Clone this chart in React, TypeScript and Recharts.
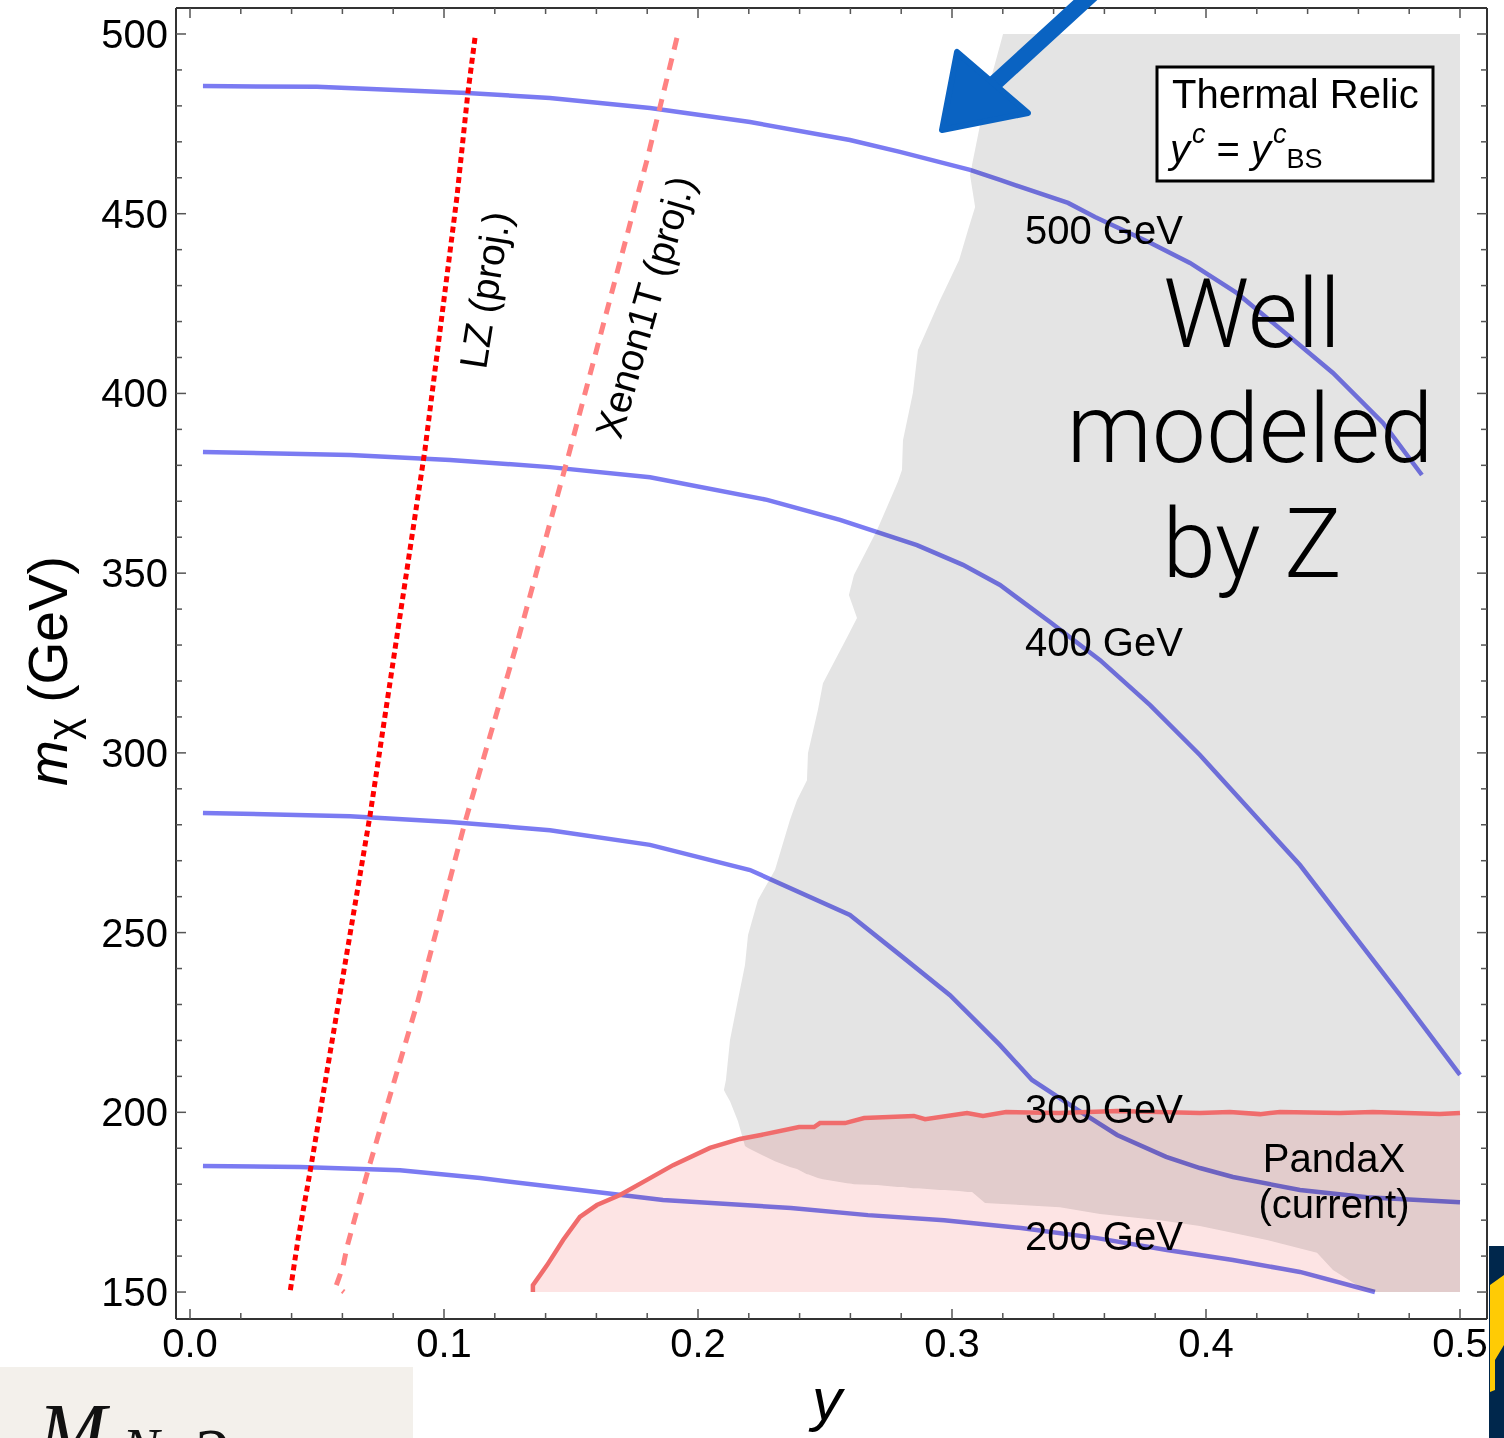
import React from 'react';
import { ComposedChart, XAxis, YAxis, Line, Area } from 'recharts';

const FONT = '"Liberation Sans", Arial, Helvetica, sans-serif';

// axis ticks
const X_TICKS = [0, 0.02, 0.04, 0.06, 0.08, 0.1, 0.12, 0.14, 0.16, 0.18, 0.2, 0.22, 0.24, 0.26, 0.28, 0.3, 0.32, 0.34, 0.36, 0.38, 0.4, 0.42, 0.44, 0.46, 0.48, 0.5];
const X_MAJOR = [0, 0.1, 0.2, 0.3, 0.4, 0.5];
const X_LABELS = ['0.0', '0.1', '0.2', '0.3', '0.4', '0.5'];
const Y_TICKS = [150, 160, 170, 180, 190, 200, 210, 220, 230, 240, 250, 260, 270, 280, 290, 300, 310, 320, 330, 340, 350, 360, 370, 380, 390, 400, 410, 420, 430, 440, 450, 460, 470, 480, 490, 500];
const Y_MAJOR = [150, 200, 250, 300, 350, 400, 450, 500];
const Y_LABELS = ['150', '200', '250', '300', '350', '400', '450', '500'];

// relic curves, [y, m_chi]
const m500 = [[0.0051, 485.5], [0.05, 485.3], [0.1091, 483.6], [0.1417, 482.2], [0.1811, 479.4], [0.2205, 475.5], [0.2598, 470.5], [0.2795, 467.2], [0.3071, 462.2], [0.3189, 459.4], [0.3457, 453.0], [0.3563, 449.1], [0.378, 441.9], [0.3937, 436.3], [0.4122, 427.9], [0.4331, 415.7], [0.45, 405.7], [0.4697, 391.8], [0.485, 377.3]];
const m400 = [[0.0051, 383.7], [0.063, 382.9], [0.1024, 381.5], [0.1417, 379.5], [0.1811, 376.7], [0.2272, 370.4], [0.2559, 364.8], [0.2862, 357.8], [0.3043, 352.3], [0.3189, 346.7], [0.3386, 336.4], [0.3583, 325.8], [0.378, 313.3], [0.3976, 299.4], [0.4173, 284.1], [0.437, 268.8], [0.4567, 250.7], [0.4764, 232.6], [0.5, 210.4]];
const m300 = [[0.0051, 283.3], [0.063, 282.4], [0.1024, 280.8], [0.1417, 278.5], [0.1811, 274.4], [0.2205, 267.4], [0.2598, 254.9], [0.2795, 243.8], [0.2992, 232.6], [0.3189, 218.7], [0.3315, 209.0], [0.3496, 200.6], [0.365, 193.7], [0.3843, 187.6], [0.3976, 184.5], [0.4106, 182.0], [0.437, 178.4], [0.4634, 176.4], [0.5, 175.0]];
const m200 = [[0.0051, 185.1], [0.0433, 184.8], [0.0827, 183.9], [0.1142, 181.7], [0.1535, 178.4], [0.1862, 175.6], [0.2366, 173.4], [0.2669, 171.4], [0.2969, 170.0], [0.3272, 167.8], [0.3571, 165.0], [0.3846, 161.7], [0.4106, 158.9], [0.437, 155.6], [0.4665, 150.0]];

// projected limits
const lz = [[0.1122, 498.9], [0.1094, 483.6], [0.1051, 454.7], [0.0925, 384.3], [0.0709, 282.7], [0.0476, 184.8], [0.0425, 164.5], [0.0394, 150]];
const xenon1t = [[0.1917, 498.9], [0.1799, 464.9], [0.1496, 384.3], [0.1291, 331.4], [0.1083, 280.8], [0.0898, 231.2], [0.0701, 183.9], [0.0618, 162.5], [0.0602, 157.0], [0.0575, 151.7], [0.0606, 150]];

// PandaX (current) exclusion edge
const pandax = [[0.135, 150], [0.135, 151.9], [0.1406, 157.5], [0.1469, 164.5], [0.1535, 170.9], [0.1602, 174.2], [0.1693, 177.0], [0.1799, 181.2], [0.1902, 185.3], [0.2047, 190.1], [0.2165, 192.6], [0.2248, 193.7], [0.2398, 195.9], [0.2457, 195.9], [0.248, 197.0], [0.2579, 197.0], [0.2654, 198.4], [0.285, 199.0], [0.2894, 198.1], [0.3059, 199.8], [0.3122, 199.0], [0.3213, 200.1], [0.3421, 199.8], [0.365, 200.4], [0.3976, 199.8], [0.4094, 200.1], [0.4213, 199.5], [0.4291, 200.1], [0.4528, 199.8], [0.4657, 200.1], [0.4791, 199.8], [0.4921, 199.5], [0.5, 199.8]];

// "well modeled by Z" region, [y, lower, upper]
const wellModeled = [[0.2102, 206.2, 206.2], [0.211, 205.1, 209.0], [0.2126, 203.1, 220.1], [0.2157, 197.6, 231.2], [0.2185, 190.6, 241.0], [0.2197, 190.1, 249.3], [0.2236, 188.7, 259.1], [0.2303, 186.4, 267.4], [0.2362, 184.8, 281.3], [0.239, 184.2, 286.9], [0.2429, 182.8, 292.4], [0.2433, 182.8, 300.0], [0.2472, 181.7, 311.9], [0.2492, 181.4, 319.4], [0.2587, 180.3, 332.2], [0.2626, 180.0, 337.5], [0.2594, 180.3, 343.9], [0.2614, 180.0, 349.5], [0.2705, 179.8, 362.0], [0.2787, 179.2, 375.4], [0.2803, 179.2, 378.7], [0.2807, 179.2, 387.0], [0.2846, 178.9, 400.1], [0.2866, 178.9, 412.1], [0.2953, 178.4, 426.0], [0.2972, 178.4, 428.8], [0.3028, 178.1, 437.1], [0.3063, 177.8, 445.5], [0.3091, 177.8, 451.9], [0.3071, 177.8, 460.8], [0.3079, 177.8, 463.6], [0.313, 174.8, 481.6], [0.3201, 174.5, 500], [0.3272, 174.2, 500], [0.3425, 173.6, 500], [0.3583, 171.7, 500], [0.3819, 170.0, 500], [0.3976, 168.4, 500], [0.424, 164.5, 500], [0.4437, 160.9, 500], [0.45, 156.1, 500], [0.4606, 151.4, 500], [0.4665, 150, 500], [0.5, 150, 500]];

const pts = (a: number[][]) => a.map(([x, y]) => ({ x, y }));
const rangePts = (a: number[][]) => a.map(([x, lo, hi]) => ({ x, r: [lo, hi] }));
const pandaxFill = pandax.map(([x, y]) => ({ x, r: [150, y] }));

const BLUE_CURVES = [m200, m300, m400, m500];

const X_DOMAIN = [-0.005512, 0.51063];
const Y_DOMAIN = [142.5, 507.23];

const isIn = (list: number[], v: number) => list.findIndex((t) => Math.abs(t - v) < 1e-6);
const TICK = '#555';

function BottomTick({ x, y, payload }: any) {
  const i = isIn(X_MAJOR, payload.value);
  return (
    <g>
      <line x1={x} y1={y} x2={x} y2={y - (i >= 0 ? 10 : 6)} stroke={TICK} strokeWidth={1.5} />
      {i >= 0 && (
        <text x={x} y={y + 38} textAnchor="middle" fontSize={40} fill="#000" fontFamily={FONT}>{X_LABELS[i]}</text>
      )}
    </g>
  );
}

function TopTick({ x, y, payload }: any) {
  const i = isIn(X_MAJOR, payload.value);
  return <line x1={x} y1={y} x2={x} y2={y + (i >= 0 ? 10 : 6)} stroke={TICK} strokeWidth={1.5} />;
}

function LeftTick({ x, y, payload }: any) {
  const i = isIn(Y_MAJOR, payload.value);
  return (
    <g>
      <line x1={x} y1={y} x2={x + (i >= 0 ? 10 : 6)} y2={y} stroke={TICK} strokeWidth={1.5} />
      {i >= 0 && (
        <text x={x - 8} y={y + 14} textAnchor="end" fontSize={40} fill="#000" fontFamily={FONT}>{Y_LABELS[i]}</text>
      )}
    </g>
  );
}

function RightTick({ x, y, payload }: any) {
  const i = isIn(Y_MAJOR, payload.value);
  return <line x1={x} y1={y} x2={x - (i >= 0 ? 10 : 6)} y2={y} stroke={TICK} strokeWidth={1.5} />;
}

const frame = { stroke: '#333', strokeWidth: 2 };

export default function App() {
  return (
    <div style={{ position: 'relative', width: 1504, height: 1438, overflow: 'hidden', fontFamily: FONT, background: '#fff' }}>
      <style>{'body{margin:0} .blend{mix-blend-mode:multiply}'}</style>
      <ComposedChart width={1504} height={1438} margin={{ top: 7, right: 16, bottom: 118, left: 175 }}>
        <XAxis xAxisId="b" dataKey="x" type="number" domain={X_DOMAIN} allowDataOverflow ticks={X_TICKS} interval={0}
          height={1} tickSize={0} tickMargin={0} tickLine={false} axisLine={frame} tick={(p: any) => <BottomTick {...p} />} />
        <XAxis xAxisId="t" orientation="top" dataKey="x" type="number" domain={X_DOMAIN} allowDataOverflow ticks={X_TICKS} interval={0}
          height={1} tickSize={0} tickMargin={0} tickLine={false} axisLine={frame} tick={(p: any) => <TopTick {...p} />} />
        <YAxis yAxisId="l" type="number" domain={Y_DOMAIN} allowDataOverflow ticks={Y_TICKS} interval={0}
          width={1} tickSize={0} tickMargin={0} tickLine={false} axisLine={frame} tick={(p: any) => <LeftTick {...p} />} />
        <YAxis yAxisId="r" orientation="right" type="number" domain={Y_DOMAIN} allowDataOverflow ticks={Y_TICKS} interval={0}
          width={1} tickSize={0} tickMargin={0} tickLine={false} axisLine={frame} tick={(p: any) => <RightTick {...p} />} />

        <Area xAxisId="b" yAxisId="l" data={rangePts(wellModeled)} dataKey="r" type="linear" fill="#e4e4e4" fillOpacity={1}
          stroke="none" isAnimationActive={false} />
        <Area xAxisId="b" yAxisId="l" data={pandaxFill} dataKey="r" type="linear" fill="#fde4e4" fillOpacity={1}
          stroke="none" className="blend" isAnimationActive={false} />

        {BLUE_CURVES.map((c, i) => (
          <Line key={i} xAxisId="b" yAxisId="l" data={pts(c)} dataKey="y" type="linear" stroke="#7b7bf2" strokeWidth={4.5}
            dot={false} className="blend" isAnimationActive={false} />
        ))}

        <Line xAxisId="b" yAxisId="l" data={pts(pandax)} dataKey="y" type="linear" stroke="#f06c6c" strokeWidth={4.5}
          dot={false} isAnimationActive={false} />
        <Line xAxisId="b" yAxisId="l" data={pts(lz)} dataKey="y" type="linear" stroke="#ff0000" strokeWidth={5}
          strokeDasharray="6 4" dot={false} isAnimationActive={false} />
        <Line xAxisId="b" yAxisId="l" data={pts(xenon1t)} dataKey="y" type="linear" stroke="#ff8282" strokeWidth={5}
          strokeDasharray="12 9" dot={false} isAnimationActive={false} />
      </ComposedChart>

      <svg width={1504} height={1438} style={{ position: 'absolute', left: 0, top: 0, pointerEvents: 'none' }} fontFamily={FONT}>
        <g fontSize={40} fill="#000">
          <text x={1025} y={244}>500 GeV</text>
          <text x={1025} y={656}>400 GeV</text>
          <text x={1025} y={1123}>300 GeV</text>
          <text x={1025} y={1250}>200 GeV</text>
        </g>
        <g fontFamily="Roboto, 'Open Sans', sans-serif" fontWeight={300} fontSize={96} textAnchor="middle" fill="#000">
          <text x={1252} y={347}>Well</text>
          <text x={1250} y={462}>modeled</text>
          <text x={1252} y={577}>by Z</text>
        </g>
        <g fontSize={40} textAnchor="middle" fill="#000">
          <text x={1334} y={1172}>PandaX</text>
          <text x={1334} y={1218}>(current)</text>
        </g>
        <text transform="translate(485,290) rotate(-81)" textAnchor="middle" dominantBaseline="central" fontSize={39}>LZ (proj.)</text>
        <text transform="translate(645,307) rotate(-74)" textAnchor="middle" dominantBaseline="central" fontSize={39}>Xenon1T (proj.)</text>

        <rect x={1157} y={67} width={276} height={114} fill="#fff" stroke="#000" strokeWidth={3} />
        <text x={1172} y={108} fontSize={40}>Thermal Relic</text>
        <text x={1170} y={163} fontSize={40}>
          <tspan fontStyle="italic">y</tspan>
          <tspan fontStyle="italic" fontSize={27} dx={2} dy={-20}>c</tspan>
          <tspan dy={20}> = </tspan>
          <tspan fontStyle="italic">y</tspan>
          <tspan fontStyle="italic" fontSize={27} dx={2} dy={-20}>c</tspan>
          <tspan fontSize={27} dy={25}>BS</tspan>
        </text>

        <text x={827} y={1420} fontSize={60} fontStyle="italic" textAnchor="middle">y</text>
        <text transform="translate(67,671) rotate(-90)" textAnchor="middle" fontSize={55}>
          <tspan fontStyle="italic">m</tspan>
          <tspan fontSize={42} dy={10}>χ</tspan>
          <tspan dy={-10}> (GeV)</tspan>
        </text>

        {/* hand-drawn arrow */}
        <g fill="#0a63c2" stroke="#0a63c2" strokeLinejoin="round">
          <line x1={985} y1={92} x2={1092} y2={-6} strokeWidth={16} strokeLinecap="round" />
          <polygon points="957,52 942,130 1028,113" strokeWidth={6} />
        </g>

        {/* pieces of neighbouring slide content */}
        <rect x={0} y={1367} width={413} height={71} fill="#f3f0eb" />
        <g fontFamily="'Liberation Serif', 'DejaVu Serif', serif" fontStyle="italic" fill="#111">
          <text x={38} y={1460} fontSize={82}>M</text>
          <text x={122} y={1468} fontSize={56}>N</text>
        </g>
        <text x={195} y={1478} fontSize={72} fontFamily="'Liberation Serif', serif" fill="#111">2</text>
        <rect x={1489} y={1246} width={15} height={192} fill="#00274c" />
        <polygon points="1490,1285 1504,1275 1504,1345 1495,1360 1495,1390 1490,1392" fill="#ffcb05" />
      </svg>
    </div>
  );
}
